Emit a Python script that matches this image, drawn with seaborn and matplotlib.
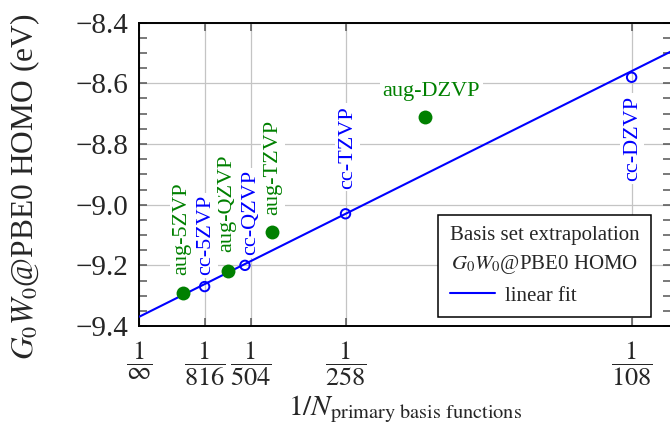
import numpy as np
import pandas as pd
import matplotlib
matplotlib.use("Agg")
import matplotlib.pyplot as plt
from matplotlib.ticker import FixedLocator, MultipleLocator, FuncFormatter
import seaborn as sns

# Basis sets with augmented functions: size of the primary basis and HOMO energy (eV)
aug_basis = ["aug-5ZVP", "aug-QZVP", "aug-TZVP", "aug-DZVP"]
aug_nbasis = [1230, 603, 402, 186]
aug_homo = [-9.29, -9.22, -9.09, -8.71]

# Correlation-consistent basis sets
cc_basis = ["cc-5ZVP", "cc-QZVP", "cc-TZVP", "cc-DZVP"]
cc_nbasis = [816, 504, 258, 108]
cc_homo = [-9.27, -9.20, -9.03, -8.58]

# Linear fit in 1/N (intercept = extrapolated complete-basis limit)
fit_intercept = -9.369
fit_slope = 87.4

# x ticks given as basis sizes N (placed at 1/N)
xtick_nbasis = [np.inf, 816, 478, 258, 108]
xtick_denoms = [r"\infty", "816", "504", "258", "108"]

yticks = [-9.4, -9.2, -9.0, -8.8, -8.6, -8.4]

GREEN = "#008000"
BLUE = "#0000ff"

sns.set_style("ticks")
plt.rcParams["font.family"] = ["Liberation Serif", "DejaVu Serif"]
plt.rcParams["mathtext.fontset"] = "stix"
plt.rcParams["axes.unicode_minus"] = True

aug_df = pd.DataFrame({"basis": aug_basis, "inv_n": 1.0 / np.array(aug_nbasis, float),
                       "homo": aug_homo})
cc_df = pd.DataFrame({"basis": cc_basis, "inv_n": 1.0 / np.array(cc_nbasis, float),
                      "homo": cc_homo})

fig = plt.figure(figsize=(6.7, 4.34), dpi=100)
ax = fig.add_axes([0.2082, 0.2488, 0.7933, 0.699])

ax.set_xlim(0, 0.01)
ax.set_ylim(-9.4, -8.4)
ax.set_axisbelow(True)

# fit line
ax.axline((0, fit_intercept), slope=fit_slope, color=BLUE, lw=1.5,
          label="linear fit", zorder=4)

sns.scatterplot(data=aug_df, x="inv_n", y="homo", ax=ax, color=GREEN, s=100,
                linewidth=0, legend=False, zorder=5)
sns.scatterplot(data=cc_df, x="inv_n", y="homo", ax=ax, s=46, facecolors="none",
                edgecolor=BLUE, linewidth=1.4, legend=False, zorder=5)

# point labels: offsets in points from each marker
label_box = dict(boxstyle="square,pad=0.12", fc="white", ec="none")
aug_offsets = [(-0.7, 13), (-0.5, 13.7), (1.0, 12.2), (4.2, 17.8)]
aug_rot = [90, 90, 90, 0]
aug_va = ["bottom", "bottom", "bottom", "center"]
for name, x, y, off, rot, va in zip(aug_basis, aug_df["inv_n"], aug_homo,
                                    aug_offsets, aug_rot, aug_va):
    ax.annotate(name, (x, y), xytext=off, textcoords="offset points",
                rotation=rot, ha="center", va=va, color=GREEN, fontsize=16,
                bbox=label_box, zorder=3)

cc_offsets = [(1.0, 8.0), (4.0, 7.2), (1.4, 18.0), (0.5, -13.5)]
cc_va = ["bottom", "bottom", "bottom", "top"]
for name, x, y, off, va in zip(cc_basis, cc_df["inv_n"], cc_homo, cc_offsets, cc_va):
    ax.annotate(name, (x, y), xytext=off, textcoords="offset points",
                rotation=90, ha="center", va=va, color=BLUE, fontsize=16,
                bbox=label_box, zorder=3)

# axes styling
ax.xaxis.set_major_locator(FixedLocator([1.0 / n for n in xtick_nbasis]))
ax.set_xticklabels([r"$\dfrac{1}{%s}$" % d for d in xtick_denoms], fontsize=19)
ax.yaxis.set_major_locator(FixedLocator(yticks))
ax.yaxis.set_minor_locator(MultipleLocator(0.05))
ax.yaxis.set_major_formatter(FuncFormatter(lambda v, p: "\u2212%.1f" % abs(v)))
ax.tick_params(axis="y", labelsize=21)
ax.tick_params(which="both", direction="in", top=True, right=True,
               color="#555555", width=1.1, length=5.5)
ax.tick_params(axis="y", pad=8)
ax.tick_params(axis="x", pad=10)

ax.grid(True, which="major", color="#c4c4c4", lw=0.9)
for sp in ax.spines.values():
    sp.set_linewidth(1.4)
    sp.set_color("black")

ax.set_xlabel(r"$1/N_{\mathrm{primary\ basis\ functions}}$", fontsize=21, labelpad=4)
ax.set_ylabel(r"$G_0W_0$@PBE0 HOMO (eV)", fontsize=22.7)
ax.yaxis.set_label_coords(-0.183, 0.461)

leg = ax.legend(loc="lower right", bbox_to_anchor=(0.962, 0.0297),
                title="Basis set extrapolation\n$G_0W_0$@PBE0 HOMO",
                fontsize=15, title_fontsize=15, frameon=True, fancybox=False,
                framealpha=1, edgecolor="black", handlelength=2.15,
                handletextpad=0.5, borderpad=0.55, borderaxespad=0)
leg.get_frame().set_linewidth(1.1)
leg.get_title().set_multialignment("center")
leg.get_title().set_linespacing(1.45)
leg._legend_box.align = "left"

fig.savefig("out.png", dpi=100)
